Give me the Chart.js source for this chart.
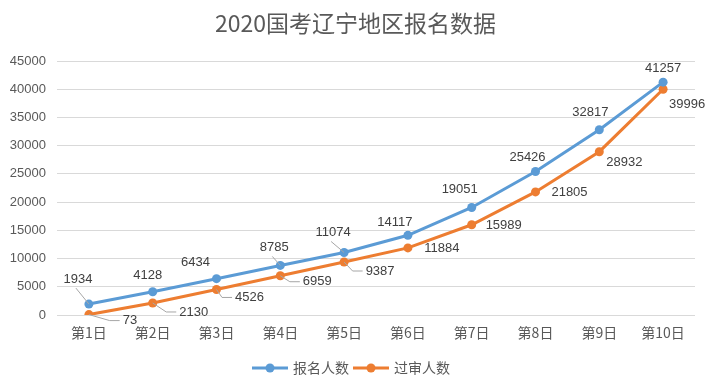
<!DOCTYPE html>
<html>
<head>
<meta charset="utf-8">
<script src="https://cdn.jsdelivr.net/npm/chart.js@4"></script>
<style>
  html, body { margin: 0; padding: 0; background: #fff; }
  #wrap { width: 713px; height: 391px; }
</style>
</head>
<body>
<div id="wrap"><canvas id="chart" width="713" height="391"></canvas></div>
<script>
const titleText = "2020国考辽宁地区报名数据";
const categories = ["第1日", "第2日", "第3日", "第4日", "第5日", "第6日", "第7日", "第8日", "第9日", "第10日"];
const applicants = [1934, 4128, 6434, 8785, 11074, 14117, 19051, 25426, 32817, 41257];
const approved = [73, 2130, 4526, 6959, 9387, 11884, 15989, 21805, 28932, 39996];
const seriesNames = ["报名人数", "过审人数"];

// label placement (offset of label centre from its point) and which get a leader line
const blueOffsets = [[-11, -25], [-5, -16], [-21, -16], [-6, -18], [-11, -20], [-13, -13], [-12, -18], [-8, -14], [-9, -17], [0, -14]];
const orangeOffsets = [[41, 6], [41, 9], [33, 8], [37, 6], [36, 9], [34, 1], [32, 1], [34, 0], [25, 11], [24, 15]];
const blueLeaders = [true, false, false, true, true, false, false, false, false, false];
const orangeLeaders = [true, true, true, true, true, false, false, false, false, false];

const BLUE = "#5b9bd5";
const ORANGE = "#ed7d31";
const NUM_FONT = '"Liberation Sans", "Noto Sans CJK SC", sans-serif';
const CJK_FONT = '"Noto Sans CJK SC", "Liberation Sans", sans-serif';

const extras = {
  id: "extras",
  afterDatasetsDraw(chart) {
    const ctx = chart.ctx;
    ctx.save();
    ctx.font = "13px " + NUM_FONT;
    ctx.textAlign = "center";
    ctx.textBaseline = "middle";
    const sets = [
      [chart.getDatasetMeta(0), applicants, blueOffsets, blueLeaders, false],
      [chart.getDatasetMeta(1), approved, orangeOffsets, orangeLeaders, true]
    ];
    sets.forEach(([meta, vals, offs, leaders, right]) => {
      meta.data.forEach((pt, i) => {
        const lx = pt.x + offs[i][0];
        const ly = pt.y + offs[i][1];
        const txt = String(vals[i]);
        const w = ctx.measureText(txt).width;
        if (leaders[i]) {
          ctx.strokeStyle = "#a6a6a6";
          ctx.lineWidth = 1;
          ctx.beginPath();
          if (right) {
            const ex = lx - w / 2 - 3;
            ctx.moveTo(pt.x, pt.y);
            ctx.lineTo(ex - 10, ly);
            ctx.lineTo(ex, ly);
          } else {
            ctx.moveTo(pt.x, pt.y);
            ctx.lineTo(lx - 2, ly + 9);
          }
          ctx.stroke();
        }
        ctx.fillStyle = "#404040";
        ctx.fillText(txt, lx, ly);
      });
    });

    // title
    ctx.fillStyle = "#595959";
    ctx.font = "23px " + CJK_FONT;
    ctx.fillText(titleText, chart.width / 2 - 1, 23);

    // legend
    ctx.font = "14px " + CJK_FONT;
    ctx.textAlign = "left";
    const colors = [BLUE, ORANGE];
    let x = 252;
    const y = 368;
    seriesNames.forEach((name, i) => {
      ctx.strokeStyle = colors[i];
      ctx.lineWidth = 3;
      ctx.beginPath();
      ctx.moveTo(x, y);
      ctx.lineTo(x + 36, y);
      ctx.stroke();
      ctx.fillStyle = colors[i];
      ctx.beginPath();
      ctx.arc(x + 18, y, 4.5, 0, Math.PI * 2);
      ctx.fill();
      ctx.fillStyle = "#595959";
      ctx.fillText(name, x + 41, y);
      x += 41 + ctx.measureText(name).width + 4;
    });
    ctx.restore();
  }
};

new Chart(document.getElementById("chart").getContext("2d"), {
  type: "line",
  data: {
    labels: categories,
    datasets: [
      {
        label: seriesNames[0],
        data: applicants,
        borderColor: BLUE,
        backgroundColor: BLUE,
        borderWidth: 3,
        pointRadius: 4.5,
        pointBorderWidth: 0,
        tension: 0
      },
      {
        label: seriesNames[1],
        data: approved,
        borderColor: ORANGE,
        backgroundColor: ORANGE,
        borderWidth: 3,
        pointRadius: 4.5,
        pointBorderWidth: 0,
        tension: 0
      }
    ]
  },
  options: {
    responsive: false,
    animation: false,
    layout: { padding: { top: 61, bottom: 46, left: 0, right: 18 } },
    plugins: {
      legend: { display: false },
      title: { display: false },
      tooltip: { enabled: false }
    },
    scales: {
      x: {
        offset: true,
        grid: { display: false, drawTicks: false },
        border: { display: false },
        ticks: { color: "#595959", font: { family: CJK_FONT, size: 14 }, padding: 9, maxRotation: 0 },
        afterFit: (s) => { s.height = 30; }
      },
      y: {
        min: 0,
        max: 45000,
        grid: { color: "#d9d9d9", drawTicks: false },
        border: { display: false },
        ticks: {
          stepSize: 5000,
          color: "#595959",
          font: { family: NUM_FONT, size: 13 },
          padding: 11,
          callback: (v) => String(v)
        },
        afterFit: (s) => { s.width = 57; }
      }
    }
  },
  plugins: [extras]
});
</script>
</body>
</html>
